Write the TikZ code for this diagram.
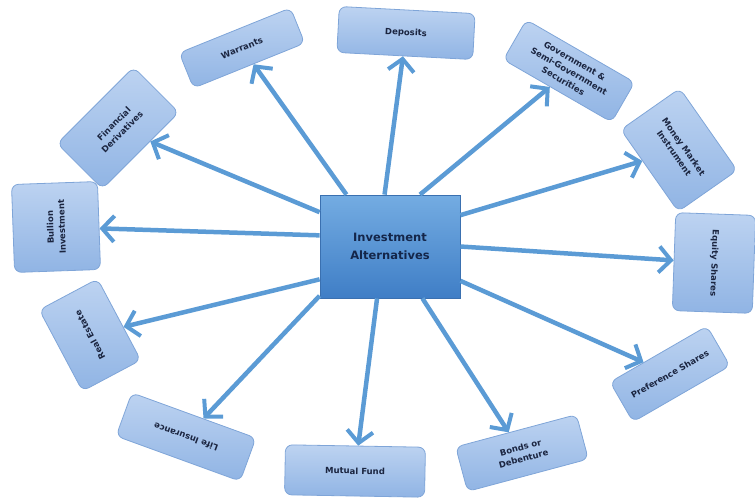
\documentclass[tikz,border=0pt]{standalone}
\usepackage{fontspec}
\setmainfont{DejaVu Sans}
\usetikzlibrary{arrows.meta}
\definecolor{arrowblue}{HTML}{5B9BD5}
\definecolor{boxtop}{HTML}{BDD3F1}
\definecolor{boxbot}{HTML}{90B4E4}
\definecolor{boxline}{HTML}{7FA5D8}
\definecolor{ctop}{HTML}{74ACE2}
\definecolor{cbot}{HTML}{3F7EC6}
\definecolor{cline}{HTML}{3A70B0}
\definecolor{navy}{HTML}{14264A}
\definecolor{labtext}{HTML}{1B2540}
\tikzset{
  leaf/.style={draw=boxline, line width=0.8pt, top color=boxtop, bottom color=boxbot,
    rounded corners=7pt, align=center, inner sep=2pt, text=labtext,
    font=\fontsize{8.5}{11.5}\selectfont\bfseries},
  centre/.style={draw=cline, line width=0.8pt, top color=ctop, bottom color=cbot,
    minimum width=140pt, minimum height=103pt, align=center, text=navy,
    font=\fontsize{11.5}{18}\selectfont\bfseries},
  arr/.style={draw=arrowblue, line width=4.5pt,
    -{Straight Barb[length=12pt,width=26pt,line width=4pt]}}
}
\begin{document}
\begin{tikzpicture}[x=1pt,y=-1pt]
\useasboundingbox (0,0) rectangle (755,499);

\node[centre] (c) at (390,246.5) {Investment\\Alternatives};

\node[leaf, minimum width=136pt, minimum height=46pt, rotate=-3] (dep) at (406,33) {Deposits};
\node[leaf, minimum width=125pt, minimum height=46pt, rotate=-30] (gov) at (569,71) {Government \&\\Semi-Government\\Securities};
\node[leaf, minimum width=100pt, minimum height=72pt, rotate=-55] (mon) at (679,150) {Money Market\\Instrument};
\node[leaf, minimum width=98pt, minimum height=80pt, rotate=-92] (eq) at (714,263) {Equity Shares};
\node[leaf, minimum width=112pt, minimum height=46pt, rotate=30] (pref) at (670,374) {Preference Shares};
\node[leaf, minimum width=125pt, minimum height=46pt, rotate=15] (bond) at (522,453) {Bonds or\\Debenture};
\node[leaf, minimum width=140pt, minimum height=50pt, rotate=-1] (mf) at (355,471) {Mutual Fund};
\node[leaf, minimum width=132pt, minimum height=46pt, rotate=160] (life) at (186,437) {Life Insurance};
\node[leaf, minimum width=92pt, minimum height=66pt, rotate=118] (re) at (90,335) {Real Estate};
\node[leaf, minimum width=88pt, minimum height=86pt, rotate=92] (bul) at (56,227) {Bullion\\Investment};
\node[leaf, minimum width=108pt, minimum height=64pt, rotate=45] (fd) at (118,128) {Financial\\Derivatives};
\node[leaf, minimum width=120pt, minimum height=38pt, rotate=22] (war) at (242,48) {Warrants};

\draw[arr] (c.96) -- (dep);
\draw[arr] (c.60) -- (gov);
\draw[arr] (c.24) -- (mon);
\draw[arr] (c.0) -- (eq);
\draw[arr] (c.-26) -- (pref);
\draw[arr] (c.-58) -- (bond);
\draw[arr] (c.-104) -- (mf);
\draw[arr] (c.-145) -- (life);
\draw[arr] (c.205) -- (re);
\draw[arr] (c.171) -- (bul);
\draw[arr] (c.154) -- (fd);
\draw[arr] (c.130) -- (war);
\end{tikzpicture}
\end{document}
